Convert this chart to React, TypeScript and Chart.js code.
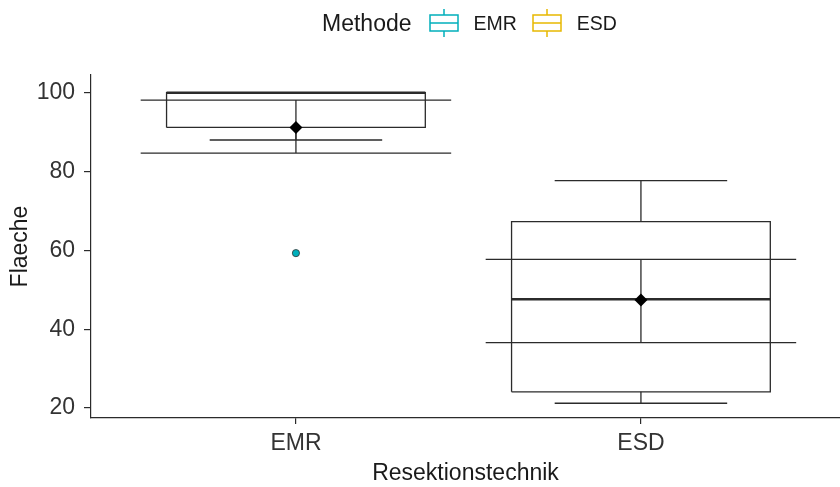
import React, { useEffect, useRef } from "react";
import { Chart, registerables } from "chart.js";
Chart.register(...registerables);

// ---- data ----
const categories = ["EMR", "ESD"];
const methodColors = ["#00AFBB", "#E7B800"];
const whiskerLow = [88.0, 21.2];
const q1 = [91.2, 24.1];
const median = [100, 47.6];
const q3 = [100, 67.3];
const whiskerHigh = [100, 77.7];
const meanVals = [91.2, 47.4];
const ciLow = [84.7, 36.6];
const ciHigh = [98.1, 57.7];
const outlierCat = [0];
const outlierVals = [59.3];
const yTicks = [20, 40, 60, 80, 100];

// ---- geometry (widths in category units) ----
const BOX_W = 0.75;
const CAP_W = 0.5;
const CI_W = 0.9;
const FONT = "'Liberation Sans', Arial, Helvetica, sans-serif";
const INK = "#2b2b2b";

type P = { x: number; y: number | null };
function segs(list: number[][]): P[] {
  const out: P[] = [];
  list.forEach(([x1, y1, x2, y2]) => {
    out.push({ x: x1, y: y1 }, { x: x2, y: y2 }, { x: x2, y: null });
  });
  return out;
}

function LegendIcon({ color }: { color: string }) {
  return (
    <svg width={30} height={28} style={{ display: "block" }}>
      <line x1={15} y1={0} x2={15} y2={6} stroke={color} strokeWidth={1.5} />
      <rect x={1} y={6} width={28} height={16} fill="white" stroke={color} strokeWidth={1.5} />
      <line x1={1} y1={14} x2={29} y2={14} stroke={color} strokeWidth={1.5} />
      <line x1={15} y1={22} x2={15} y2={28} stroke={color} strokeWidth={1.5} />
    </svg>
  );
}

export default function App() {
  const ref = useRef<HTMLCanvasElement | null>(null);

  useEffect(() => {
    if (!ref.current) return;
    const boxes = categories.flatMap((_, i) => {
      const l = i - BOX_W / 2, r = i + BOX_W / 2;
      return [
        { x: l, y: q1[i] }, { x: r, y: q1[i] }, { x: r, y: q3[i] },
        { x: l, y: q3[i] }, { x: l, y: q1[i] }, { x: l, y: null },
      ];
    });
    const medians = segs(categories.map((_, i) => [i - BOX_W / 2, median[i], i + BOX_W / 2, median[i]]));
    const whiskers = segs(
      categories.flatMap((_, i) => [
        [i, q3[i], i, whiskerHigh[i]],
        [i, q1[i], i, whiskerLow[i]],
        [i - CAP_W / 2, whiskerHigh[i], i + CAP_W / 2, whiskerHigh[i]],
        [i - CAP_W / 2, whiskerLow[i], i + CAP_W / 2, whiskerLow[i]],
      ])
    );
    const cis = segs(
      categories.flatMap((_, i) => [
        [i, ciLow[i], i, ciHigh[i]],
        [i - CI_W / 2, ciLow[i], i + CI_W / 2, ciLow[i]],
        [i - CI_W / 2, ciHigh[i], i + CI_W / 2, ciHigh[i]],
      ])
    );
    const means = categories.map((_, i) => ({ x: i, y: meanVals[i] }));
    const outliers = outlierVals.map((v, k) => ({ x: outlierCat[k], y: v }));

    const lineDs = (data: P[], width: number, order: number) => ({
      data,
      borderColor: INK,
      borderWidth: width,
      pointRadius: 0,
      showLine: true,
      spanGaps: false,
      fill: false,
      order,
      borderCapStyle: "butt" as const,
      borderJoinStyle: "miter" as const,
    });

    const chart = new Chart(ref.current, {
      type: "line",
      data: {
        datasets: [
          lineDs(whiskers, 1.3, 5) as any,
          lineDs(boxes, 1.3, 4) as any,
          lineDs(medians, 2.4, 3) as any,
          lineDs(cis, 1.3, 2) as any,
          {
            data: means,
            showLine: false,
            pointStyle: "rectRot",
            pointRadius: 6.5,
            pointBackgroundColor: "#000",
            pointBorderColor: "#000",
            pointBorderWidth: 0,
            order: 0,
          },
          {
            data: outliers,
            showLine: false,
            pointStyle: "circle",
            pointRadius: 3.6,
            pointBackgroundColor: methodColors[0],
            pointBorderColor: "#333",
            pointBorderWidth: 0.8,
            order: 1,
          },
        ],
      },
      options: {
        responsive: false,
        animation: false,
        devicePixelRatio: 1,
        layout: { autoPadding: false, padding: { top: 75, left: 0, right: 0, bottom: 0 } },
        plugins: { legend: { display: false }, tooltip: { enabled: false } },
        font: { family: FONT },
        scales: {
          x: {
            type: "linear",
            min: -0.594,
            max: 1.577,
            afterFit: (s: any) => { s.height = 69; },
            afterBuildTicks: (s: any) => { s.ticks = categories.map((_, i) => ({ value: i })); },
            ticks: {
              callback: (v: any) => categories[v] ?? "",
              font: { family: FONT, size: 23 },
              color: "#333",
              padding: 6,
              maxRotation: 0,
            },
            grid: { drawOnChartArea: false, drawTicks: true, tickLength: 6, color: INK, lineWidth: 1.2 },
            border: { display: true, color: INK, width: 1.2 },
            title: {
              display: true,
              text: "Resektionstechnik",
              font: { family: FONT, size: 23 },
              color: "#1a1a1a",
              padding: { top: 0, bottom: 0 },
            },
          },
          y: {
            type: "linear",
            min: 17.46,
            max: 104.5,
            afterFit: (s: any) => { s.width = 91; },
            afterBuildTicks: (s: any) => { s.ticks = yTicks.map((v) => ({ value: v })); },
            ticks: {
              font: { family: FONT, size: 23 },
              color: "#333",
              padding: 9,
            },
            grid: { drawOnChartArea: false, drawTicks: true, tickLength: 7, color: INK, lineWidth: 1.2 },
            border: { display: true, color: INK, width: 1.2 },
            title: {
              display: true,
              text: "Flaeche",
              font: { family: FONT, size: 23 },
              color: "#1a1a1a",
              padding: { top: 7, bottom: 0 },
            },
          },
        },
      } as any,
    });
    return () => chart.destroy();
  }, []);

  return (
    <div style={{ position: "absolute", left: 0, top: 0, width: 840, height: 487, background: "#fff", fontFamily: FONT }}>
      <canvas ref={ref} width={840} height={487} style={{ display: "block", width: 840, height: 487 }} />
      <div
        style={{
          position: "absolute",
          left: 322,
          top: 9,
          height: 28,
          display: "flex",
          alignItems: "center",
          color: "#1a1a1a",
          whiteSpace: "nowrap",
        }}
      >
        <span style={{ fontSize: 23, marginRight: 17 }}>Methode</span>
        {categories.map((c, i) => (
          <React.Fragment key={c}>
            <LegendIcon color={methodColors[i]} />
            <span style={{ fontSize: 19.5, marginLeft: 15, marginRight: 15 }}>{c}</span>
          </React.Fragment>
        ))}
      </div>
    </div>
  );
}
